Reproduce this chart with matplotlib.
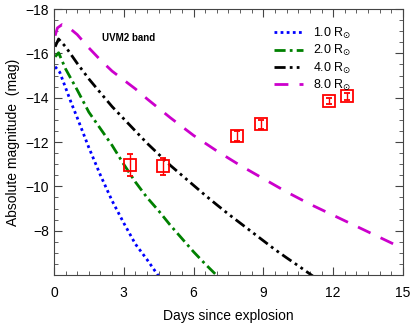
import matplotlib.pyplot as plt
import numpy as np
from matplotlib.ticker import MultipleLocator

plt.rcParams['font.family'] = ['Liberation Sans', 'DejaVu Sans']
plt.rcParams['mathtext.fontset'] = 'dejavusans'

# model light curves (days, absolute magnitude)
t_r1 = [0.05, 0.25, 0.5, 0.75, 1.0, 1.5, 2.0, 2.5, 3.0, 3.5, 4.0, 4.5]
m_r1 = [-15.4, -15.15, -14.45, -13.75, -13.1, -11.75, -10.5, -9.35, -8.35, -7.4, -6.7, -5.95]

t_r2 = [0.05, 0.2, 0.5, 1.0, 1.5, 2.0, 2.5, 3.0, 3.5, 4.0, 4.5, 5.0, 5.5, 6.0, 6.5, 7.0, 7.1]
m_r2 = [-15.85, -16.03, -15.3, -14.35, -13.35, -12.6, -11.85, -11.0, -10.2, -9.5, -8.9, -8.25,
        -7.65, -7.05, -6.5, -5.98, -5.9]

t_r4 = [0.05, 0.2, 0.5, 1.0, 1.5, 2.0, 2.5, 3.0, 3.5, 4.0, 4.5, 5.0, 5.5, 6.0, 6.5, 7.0,
        7.5, 8.0, 8.5, 9.0, 9.5, 10.0, 10.5, 11.0, 11.2]
m_r4 = [-16.3, -16.65, -16.3, -15.55, -14.85, -14.22, -13.6, -13.05, -12.5, -11.95, -11.45,
        -10.95, -10.5, -10.05, -9.6, -9.17, -8.75, -8.35, -7.95, -7.55, -7.15, -6.78, -6.42,
        -6.05, -5.9]

t_r8 = [0.05, 0.15, 0.35, 0.6, 1.0, 1.5, 2.0, 2.5, 3.0, 3.5, 4.0, 5.0, 6.0, 7.0, 8.0, 9.0,
        10.0, 11.0, 12.0, 13.0, 14.0, 15.0]
m_r8 = [-16.8, -17.15, -17.3, -17.2, -16.85, -16.25, -15.7, -15.2, -14.8, -14.4, -13.95, -13.1,
        -12.3, -11.6, -10.95, -10.35, -9.75, -9.2, -8.7, -8.2, -7.7, -7.2]

# observed UVM2 points
obs_t = [3.27, 4.70, 7.88, 8.91, 11.80, 12.58]
obs_m = [-10.96, -10.91, -12.28, -12.81, -13.85, -14.07]
obs_err = [0.48, 0.39, 0.22, 0.2, 0.15, 0.15]

fig = plt.figure(figsize=(4.15, 3.24), dpi=100)
ax = fig.add_axes([0.130, 0.151, 0.841, 0.821])

ax.plot(t_r1, m_r1, color='#0000ff', lw=2, ls=(0, (1, 1.2)), label=r'1.0 R$_{\odot}$')
ax.plot(t_r2, m_r2, color='#008000', lw=2, ls=(0, (4, 1.5, 1, 1.5)), label=r'2.0 R$_{\odot}$')
ax.plot(t_r4, m_r4, color='black', lw=2, ls=(0, (4, 1.5, 1, 1.5, 1, 1.5)), label=r'4.0 R$_{\odot}$')
ax.plot(t_r8, m_r8, color='#cc00cc', lw=2, ls=(0, (5, 4)), label=r'8.0 R$_{\odot}$')

ax.errorbar(obs_t, obs_m, yerr=obs_err, fmt='s', ms=9, mfc='none', mec='red', mew=1.3,
            ecolor='red', elinewidth=1, capsize=2.5, capthick=1)

ax.text(2.06, -16.68, 'UVM2 band', fontsize=7, fontweight='bold', va='center')

ax.set_xlim(0, 15)
ax.set_ylim(-6, -18)
ax.set_xticks([0, 3, 6, 9, 12, 15])
ax.set_yticks([-18, -16, -14, -12, -10, -8])
ax.xaxis.set_minor_locator(MultipleLocator(0.5))
ax.yaxis.set_minor_locator(MultipleLocator(0.5))
ax.tick_params(which='both', direction='in', top=True, right=True, labelsize=10, color='#444444')
ax.tick_params(which='major', length=6)
ax.tick_params(which='minor', length=3)
ax.tick_params(axis='x', pad=8)
for s in ax.spines.values():
    s.set_color('#444444')

ax.set_xlabel('Days since explosion', fontsize=10, labelpad=6)
ax.set_ylabel('Absolute magnitude  (mag)', fontsize=10, labelpad=4)

ax.legend(loc='upper right', bbox_to_anchor=(0.88, 0.975), frameon=False, fontsize=9,
          handlelength=2.3, labelspacing=0.18, handletextpad=0.8, borderpad=0.3)

fig.savefig('out.png', dpi=100)
